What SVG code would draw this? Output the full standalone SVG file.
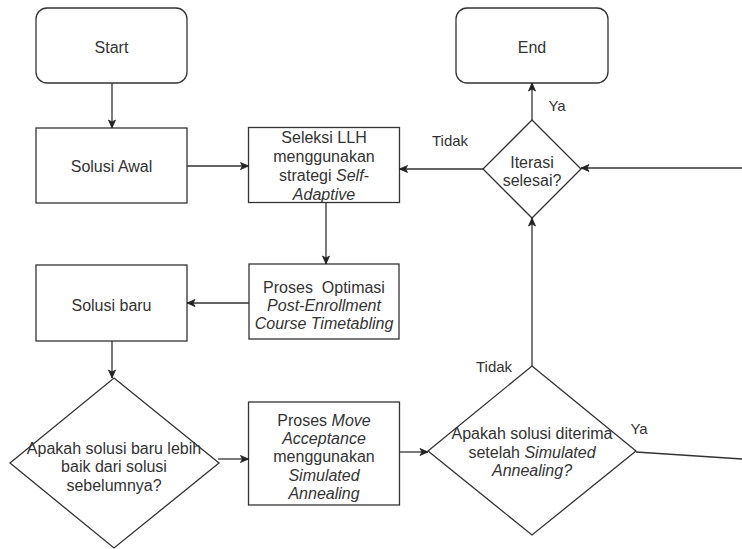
<svg xmlns="http://www.w3.org/2000/svg" width="742" height="549" viewBox="0 0 742 549">
<defs>
<marker id="arr" markerUnits="userSpaceOnUse" markerWidth="10" markerHeight="10" viewBox="0 0 10 10" refX="9" refY="5" orient="auto">
<path d="M1,1.5 L9,5 L1,8.5 L3,5 Z" fill="#222" stroke="#222" stroke-width="0.8"/>
</marker>
<style>
.box{fill:#fff;stroke:#333;stroke-width:1.3}
.ln{fill:none;stroke:#333;stroke-width:1.3}
.t{font-family:"Liberation Sans",Arial,sans-serif;font-size:16px;fill:#333;text-anchor:middle}
.i{font-style:italic}
</style>
</defs>
<rect width="742" height="549" fill="#fff"/>

<g id="start"><rect class="box" x="36" y="8" width="151" height="75" rx="11"/><text class="t" x="111.5" y="52.5">Start</text></g>
<g id="end"><rect class="box" x="456" y="8" width="152" height="75" rx="11"/><text class="t" x="532" y="52.5">End</text></g>
<g id="solusi-awal"><rect class="box" x="36" y="128" width="151" height="75"/><text class="t" x="111.5" y="171.5">Solusi Awal</text></g>
<g id="seleksi"><rect class="box" x="248.5" y="127.5" width="151" height="75"/>
<text class="t" x="324" y="142.5">Seleksi LLH</text>
<text class="t" x="324" y="161.5">menggunakan</text>
<text class="t" x="324" y="180.5">strategi <tspan class="i">Self-</tspan></text>
<text class="t i" x="324" y="199.5">Adaptive</text></g>
<g id="optimasi"><rect class="box" x="249" y="264" width="150" height="75"/>
<text class="t" x="324" y="292.5" xml:space="preserve">Proses  Optimasi</text>
<text class="t i" x="324" y="310.5">Post-Enrollment</text>
<text class="t i" x="324" y="328.5">Course Timetabling</text></g>
<g id="solusi-baru"><rect class="box" x="36" y="265" width="151" height="76"/><text class="t" x="111.5" y="310.5">Solusi baru</text></g>
<g id="cek-lebih-baik"><polygon class="box" points="114,378 219,463 114,548 10,463"/>
<text class="t" x="114" y="453.5">Apakah solusi baru lebih</text>
<text class="t" x="114" y="472">baik dari solusi</text>
<text class="t" x="114" y="490.5">sebelumnya?</text></g>
<g id="move-acceptance"><rect class="box" x="248.5" y="402" width="151" height="103"/>
<text class="t" x="324" y="425.5">Proses <tspan class="i">Move</tspan></text>
<text class="t i" x="324" y="443.5">Acceptance</text>
<text class="t" x="324" y="462">menggunakan</text>
<text class="t i" x="324" y="480.5">Simulated</text>
<text class="t i" x="324" y="498.5">Annealing</text></g>
<g id="cek-diterima"><polygon class="box" points="532,366 636,451 532,535 428,451"/>
<text class="t" x="532" y="438.5">Apakah solusi diterima</text>
<text class="t" x="532" y="457.5">setelah <tspan class="i">Simulated</tspan></text>
<text class="t i" x="532" y="475.5">Annealing?</text></g>
<g id="iterasi"><polygon class="box" points="532,120 581,169 532,218 483,169"/>
<text class="t" x="532" y="167.5">Iterasi</text>
<text class="t" x="532" y="185.5">selesai?</text></g>

<g id="connectors">
<line class="ln" x1="112" y1="83" x2="112" y2="128" marker-end="url(#arr)"/>
<line class="ln" x1="187" y1="166" x2="248.5" y2="166" marker-end="url(#arr)"/>
<line class="ln" x1="326" y1="202.5" x2="326" y2="264" marker-end="url(#arr)"/>
<line class="ln" x1="249" y1="303" x2="187" y2="303" marker-end="url(#arr)"/>
<line class="ln" x1="112" y1="341" x2="112" y2="378" marker-end="url(#arr)"/>
<line class="ln" x1="218" y1="459" x2="248.5" y2="459" marker-end="url(#arr)"/>
<line class="ln" x1="399.5" y1="452" x2="428" y2="452" marker-end="url(#arr)"/>
<line class="ln" x1="532" y1="366" x2="532" y2="218" marker-end="url(#arr)"/>
<line class="ln" x1="636" y1="452" x2="742" y2="459"/>
<line class="ln" x1="742" y1="168" x2="581" y2="168" marker-end="url(#arr)"/>
<line class="ln" x1="532" y1="120" x2="532" y2="83" marker-end="url(#arr)"/>
<line class="ln" x1="483" y1="169" x2="399.5" y2="169" marker-end="url(#arr)"/>
<text class="t" x="557" y="111" style="font-size:15px">Ya</text>
<text class="t" x="450" y="146" style="font-size:15px">Tidak</text>
<text class="t" x="494" y="372" style="font-size:15px">Tidak</text>
<text class="t" x="639" y="434" style="font-size:15px">Ya</text>
</g>
</svg>
